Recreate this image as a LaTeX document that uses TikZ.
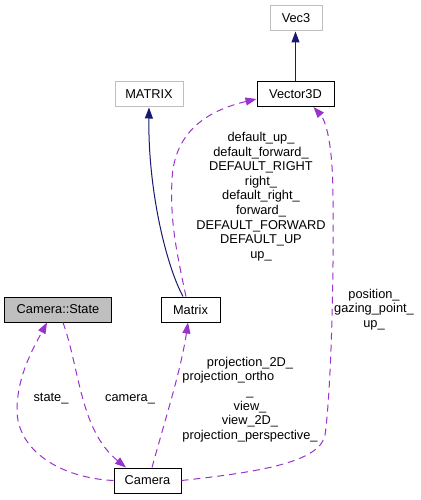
\documentclass[tikz,border=0pt]{standalone}
\usepackage{fontspec}
\usepackage{calc}
\setmainfont{Liberation Sans}
\usetikzlibrary{arrows.meta,calc}
\definecolor{dep}{HTML}{9A32CD}
\definecolor{inh}{HTML}{191970}
\definecolor{grayfill}{HTML}{BFBFBF}
\begin{document}
\begin{tikzpicture}[x=1bp,y=-1bp,
  every node/.style={font=\fontsize{12.8bp}{14.6bp}\selectfont, inner sep=0pt},
  cls/.style={draw=black, line width=1bp, fill=white, minimum height=25bp},
  ext/.style={draw=grayfill, line width=1bp, fill=white, minimum height=25bp},
  lbl/.style={align=center},
  depedge/.style={draw=dep, line width=1bp, dash pattern=on 7bp off 5bp, -{Triangle[length=11bp,width=8bp]}},
  inhedge/.style={draw=inh, line width=1bp, -{Triangle[length=11bp,width=8bp]}},
]
\path[use as bounding box] (0,0) rectangle (420,500);

\node[ext, minimum width=52bp] (vec3) at (296,18.5) {Vec3};
\node[cls, minimum width=77bp] (vector3d) at (295.5,94) {Vector3D};
\node[ext, minimum width=68bp] (MATRIX) at (149,94.5) {MATRIX};
\node[cls, fill=grayfill, minimum width=106bp] (state) at (58,309.5) {Camera::State};
\node[cls, minimum width=59bp] (matrix) at (190.5,309.5) {Matrix};
\node[cls, minimum width=67bp] (camera) at (147.5,480.5) {Camera};

% inheritance
\draw[inhedge] (vector3d.north) -- (vector3d.north |- vec3.south);
\draw[inhedge] ($(matrix.north)+(-7.5,0)$) .. controls (166,265) and (148,190) .. (MATRIX.south);

% Matrix -> Vector3D
\draw[depedge] ($(matrix.north)+(-4.5,0)$) .. controls (176,250) and (170,220) .. (172,180)
  .. controls (174,130) and (210,110) .. ($(vector3d.west)+(0,5)$);
% Camera -> Vector3D
\draw[depedge] (camera.east) .. controls (260,472) and (320,462) .. (325,435)
  .. controls (330,400) and (334,300) .. (333,200)
  .. controls (333,140) and (325,120) .. ($(vector3d.south)+(18,0)$);
% Camera -> Matrix
\draw[depedge] ($(camera.north)+(4.5,0)$) .. controls (165,420) and (181,370) .. ($(matrix.south)+(-2.5,0)$);
% Camera -> Camera::State
\draw[depedge] (camera.west) .. controls (60,478) and (17,450) .. (17,410)
  .. controls (17,375) and (35,345) .. ($(state.south)+(-11,0)$);
% Camera::State -> Camera
\draw[depedge] ($(state.south)+(5,0)$) .. controls (80,370) and (80,430) .. ($(camera.north)+(-21.5,0)$);

% labels
\node[lbl] (lvec) at (261,196.5) {default\_up\_\\default\_forward\_\\DEFAULT\_RIGHT\\right\_\\default\_right\_\\forward\_\\DEFAULT\_FORWARD\\DEFAULT\_UP\\up\_};
\node[lbl] (lpos) at (374,309.5) {position\_\\gazing\_point\_\\up\_};
\node[lbl] (lproj) at (250,399.5) {projection\_2D\_\\\makebox[\widthof{projection\_perspective\_}][l]{projection\_ortho}\\\_\\view\_\\view\_2D\_\\projection\_perspective\_};
\node (lstate) at (51,399) {state\_};
\node (lcam) at (130,399) {camera\_};
\end{tikzpicture}
\end{document}
